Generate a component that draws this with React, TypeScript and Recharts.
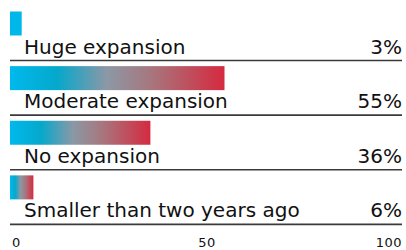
import { BarChart, Bar, XAxis, YAxis, Cell, LabelList } from 'recharts';

const categories = ['Huge expansion', 'Moderate expansion', 'No expansion', 'Smaller than two years ago'];
const shares = [3, 55, 36, 6];
const xTicks = [0, 50, 100];

const data = categories.map((name, i) => ({ name, value: shares[i] }));

const COLORS = {
  cyan: '#00b7e9',
  text: '#111111',
  rule: '#3a3a3a',
};

const SHIFT = 10; // move bars to the top of their row, label sits beneath

function RowBar(props: any) {
  const { x, y, width, height, fill } = props;
  return <rect x={x} y={y - SHIFT} width={width} height={height} fill={fill} />;
}

function RowLabel(props: any) {
  const { x, y, height, index } = props;
  const barTop = y - SHIFT;
  return (
    <g>
      <text x={24} y={barTop + height + 18} fontSize={20} fill={COLORS.text} fontFamily="DejaVu Sans, sans-serif">
        {categories[index]}
      </text>
      <text x={402} y={barTop + height + 18} fontSize={20} fill={COLORS.text} textAnchor="end" fontFamily="DejaVu Sans, sans-serif">
        {shares[index]}%
      </text>
      <line x1={x} x2={402} y1={barTop + height + 25} y2={barTop + height + 25} stroke={COLORS.rule} strokeWidth={1.6} />
    </g>
  );
}

function Tick(props: any) {
  const { x, y, payload, index } = props;
  const anchor = index === 0 ? 'start' : index === xTicks.length - 1 ? 'end' : 'middle';
  return (
    <text x={x + 2} y={y + 14} fontSize={13} fill={COLORS.text} textAnchor={anchor} fontFamily="DejaVu Sans, sans-serif" letterSpacing={0.5}>
      {payload.value}
    </text>
  );
}

export default function App() {
  return (
    <div style={{ position: 'absolute', left: 0, top: 0, background: '#fff' }}>
      <BarChart
        width={406}
        height={250}
        data={data}
        layout="vertical"
        margin={{ top: 6.5, right: 6, bottom: 0, left: 10 }}
      >
        <defs>
          <linearGradient id="barGrad" x1="0" y1="0" x2="1" y2="0">
            <stop offset="0" stopColor="#00b9ec" />
            <stop offset="0.22" stopColor="#05a8cc" />
            <stop offset="0.45" stopColor="#8b98a6" />
            <stop offset="0.65" stopColor="#a6787f" />
            <stop offset="1" stopColor="#d52a40" />
          </linearGradient>
        </defs>
        <XAxis
          type="number"
          domain={[0, 100]}
          ticks={xTicks}
          axisLine={false}
          tickLine={false}
          height={25}
          tick={<Tick />}
          interval={0}
        />
        <YAxis type="category" dataKey="name" hide />
        <Bar dataKey="value" barSize={24} shape={<RowBar />} isAnimationActive={false}>
          {data.map((d, i) => (
            <Cell key={d.name} fill={i === 0 ? COLORS.cyan : 'url(#barGrad)'} />
          ))}
          <LabelList dataKey="value" content={<RowLabel />} />
        </Bar>
      </BarChart>
    </div>
  );
}
